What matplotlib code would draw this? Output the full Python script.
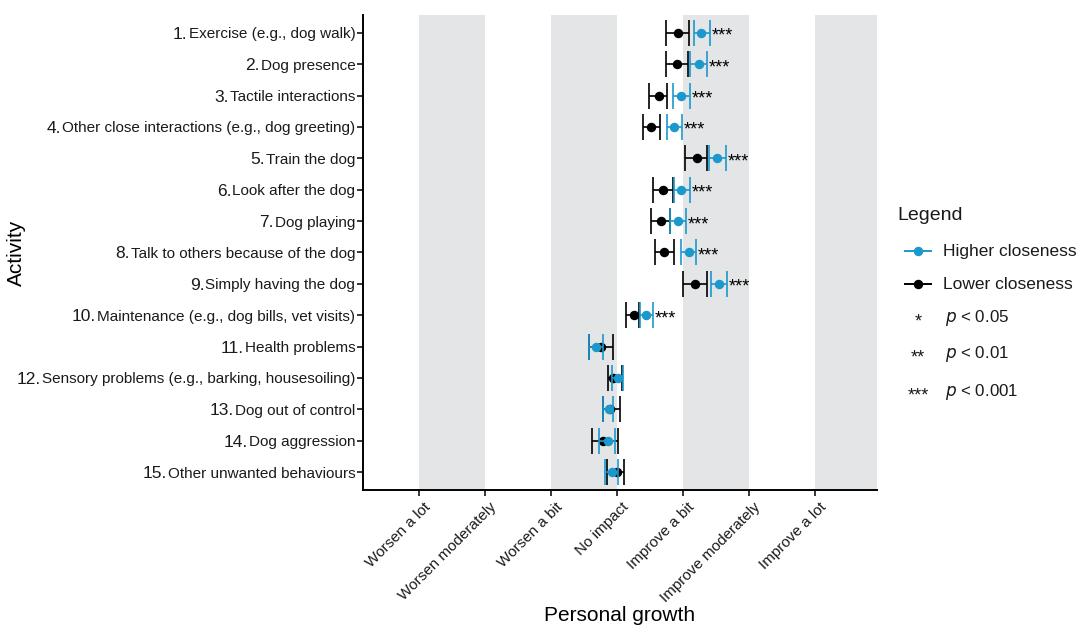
import numpy as np
import matplotlib
matplotlib.use("Agg")
import matplotlib.pyplot as plt
import matplotlib.transforms as mtrans
from matplotlib.lines import Line2D

plt.rcParams['font.family'] = ['Liberation Sans', 'DejaVu Sans']

# activities (top to bottom)
nums = ["1.", "2.", "3.", "4.", "5.", "6.", "7.", "8.", "9.", "10.",
        "11.", "12.", "13.", "14.", "15."]
activities = ["Exercise (e.g., dog walk)", "Dog presence", "Tactile interactions",
              "Other close interactions (e.g., dog greeting)", "Train the dog",
              "Look after the dog", "Dog playing", "Talk to others because of the dog",
              "Simply having the dog", "Maintenance (e.g., dog bills, vet visits)",
              "Health problems", "Sensory problems (e.g., barking, housesoiling)",
              "Dog out of control", "Dog aggression", "Other unwanted behaviours"]

# lower closeness: mean, lower CI, upper CI
low_mean = [4.92, 4.91, 4.63, 4.52, 5.21, 4.69, 4.66, 4.71, 5.18, 4.25,
            3.76, 3.94, 3.89, 3.79, 4.00]
low_lo = [4.74, 4.74, 4.48, 4.39, 5.03, 4.54, 4.51, 4.57, 5.00, 4.13,
          3.58, 3.87, 3.79, 3.62, 3.85]
low_hi = [5.09, 5.08, 4.76, 4.65, 5.37, 4.85, 4.80, 4.87, 5.36, 4.34,
          3.94, 4.07, 4.04, 4.01, 4.10]

# higher closeness
high_mean = [5.28, 5.24, 4.97, 4.86, 5.52, 4.97, 4.92, 5.09, 5.54, 4.44,
             3.68, 4.01, 3.88, 3.87, 3.92]
high_lo = [5.17, 5.11, 4.85, 4.76, 5.39, 4.86, 4.80, 4.97, 5.42, 4.35,
           3.58, 3.92, 3.79, 3.72, 3.82]
high_hi = [5.41, 5.37, 5.10, 4.99, 5.65, 5.10, 5.04, 5.20, 5.67, 4.54,
           3.79, 4.09, 3.94, 3.97, 4.01]

signif = ["***"] * 10 + [""] * 5

scale_labels = ["Worsen a lot", "Worsen moderately", "Worsen a bit", "No impact",
                "Improve a bit", "Improve moderately", "Improve a lot"]

blue = "#1b98cc"
txt = "#1a1a1a"

fig = plt.figure(figsize=(10.82, 6.33), dpi=100)
ax = fig.add_axes([0.3355, 0.226, 0.475, 0.7505])

y = np.arange(1, len(activities) + 1)

# grey bands
for start in [1, 3, 5, 7]:
    ax.axvspan(start, start + 1, color="#e4e5e6", lw=0, zorder=0)

def draw(mean, lo, hi, col, z):
    mean = np.array(mean)
    err = [mean - np.array(lo), np.array(hi) - mean]
    ax.errorbar(mean, y, xerr=err, fmt='o', color=col, ecolor=col,
                markersize=5.8, elinewidth=1.2, capsize=9.7, capthick=1.2,
                zorder=z)

draw(low_mean, low_lo, low_hi, "black", 3)
draw(high_mean, high_lo, high_hi, blue, 4)

for yi, h, s in zip(y, high_hi, signif):
    if s:
        ax.annotate(s, (h, yi), xytext=(1.2, -2.5), textcoords='offset points',
                    ha='left', va='center', fontsize=13)

ax.set_xlim(0.15, 7.94)
ax.set_ylim(15.57, 0.43)
ax.set_xticks(range(1, 8))
ax.set_xticklabels([])
ax.set_yticks(y)
ax.set_yticklabels(activities, fontsize=11, color=txt)
ax.tick_params(axis='both', length=4, width=1.1, color="black")
ax.tick_params(axis='y', pad=1.5)
for side in ['top', 'right']:
    ax.spines[side].set_visible(False)
for side in ['left', 'bottom']:
    ax.spines[side].set_linewidth(1.4)

# rotated x tick labels
xt = ax.get_xaxis_transform() + mtrans.ScaledTranslation(4.5 / 100, -10 / 100, fig.dpi_scale_trans)
for i, lab in enumerate(scale_labels, start=1):
    ax.text(i, 0, lab, transform=xt, rotation=45, rotation_mode='anchor',
            ha='right', va='top', fontsize=11, color=txt)

ax.set_xlabel("Personal growth", fontsize=15)
ax.set_ylabel("Activity", fontsize=15)
ax.xaxis.set_label_coords(0.5, -0.245)
ax.yaxis.set_label_coords(-0.655, 0.5)

# numbers in a slightly bigger font before each label
fig.canvas.draw()
renderer = fig.canvas.get_renderer()
inv = fig.transFigure.inverted()
for lab, n in zip(ax.get_yticklabels(), nums):
    bb = lab.get_window_extent(renderer)
    fx, fy = inv.transform((bb.x0 - 1, (bb.y0 + bb.y1) / 2))
    fig.text(fx, fy, n, ha='right', va='center', fontsize=12.5, color=txt)

# legend
fig.text(0.829, 0.66, "Legend", fontsize=14, va='center', ha='left', color=txt)
leg_rows = [0.603, 0.551]
for yy, col, lab in zip(leg_rows, [blue, "black"], ["Higher closeness", "Lower closeness"]):
    fig.add_artist(Line2D([0.8365, 0.8485, 0.8605], [yy, yy, yy], color=col, lw=1.4,
                          marker='o', markevery=[1], markersize=5.8,
                          transform=fig.transFigure))
    fig.text(0.8715, yy, lab, fontsize=12.5, va='center', ha='left', color=txt)
for yy, s, lab in zip([0.497, 0.441, 0.38], ["*", "**", "***"],
                      ["0.05", "0.01", "0.001"]):
    fig.text(0.8485, yy - 0.006, s, fontsize=13, va='center', ha='center', color=txt)
    fig.text(0.8735, yy, r"$p$ < " + lab, fontsize=12.2, va='center', ha='left', color=txt)

fig.savefig("out.png", dpi=100)
